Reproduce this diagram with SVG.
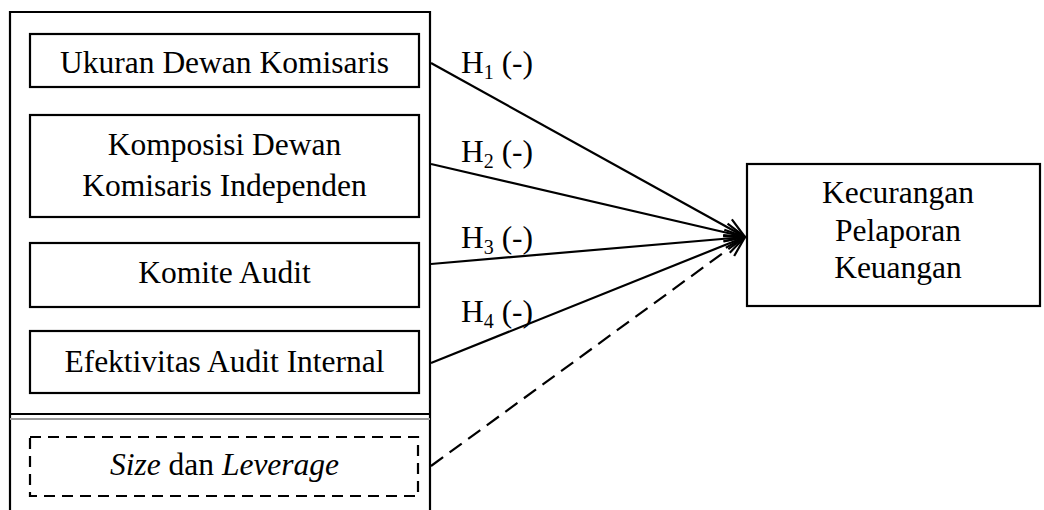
<svg xmlns="http://www.w3.org/2000/svg" width="1044" height="510" viewBox="0 0 1044 510">
<style>
text{font-family:"Liberation Serif","Times New Roman",serif;font-size:31.5px;fill:#000}
.b{fill:#fff;stroke:#000;stroke-width:2.2}
.c{fill:none;stroke:#000;stroke-width:2.2}
.d{stroke-dasharray:11 7}
.dl{stroke-dasharray:15 8}
.s{font-size:20px}
</style>
<defs>
<marker id="ah" viewBox="0 0 22 22" refX="21" refY="11" markerWidth="22" markerHeight="22" markerUnits="userSpaceOnUse" orient="auto">
<path d="M1,2 L21,11 L1,20" fill="none" stroke="#000" stroke-width="2.2"/>
</marker>
</defs>
<rect width="1044" height="510" fill="#fff"/>
<g id="outer">
<path d="M10,512 V12 H430 V512" class="c"/>
<line x1="10" y1="414" x2="430" y2="414" stroke="#000" stroke-width="2.2"/>
<line x1="10" y1="419" x2="430" y2="419" stroke="#999" stroke-width="2"/>
</g>
<g id="n1"><rect x="30" y="34" width="389" height="53" class="b"/><text x="224.5" y="73" text-anchor="middle">Ukuran Dewan Komisaris</text></g>
<g id="n2"><rect x="30" y="115" width="389" height="102" class="b"/><text x="224.5" y="155" text-anchor="middle">Komposisi Dewan</text><text x="224.5" y="196" text-anchor="middle">Komisaris Independen</text></g>
<g id="n3"><rect x="30" y="243" width="389" height="64" class="b"/><text x="224.5" y="283" text-anchor="middle">Komite Audit</text></g>
<g id="n4"><rect x="30" y="331" width="389" height="62" class="b"/><text x="224.5" y="372" text-anchor="middle">Efektivitas Audit Internal</text></g>
<g id="n5"><rect x="30" y="437" width="388" height="59" class="b d"/><text x="224.5" y="475" text-anchor="middle"><tspan font-style="italic">Size</tspan> dan <tspan font-style="italic">Leverage</tspan></text></g>
<g id="target"><rect x="747" y="164" width="293" height="142" class="b"/><text x="898" y="203" text-anchor="middle">Kecurangan</text><text x="898" y="241" text-anchor="middle">Pelaporan</text><text x="898" y="278" text-anchor="middle">Keuangan</text></g>
<g id="connectors">
<line x1="431" y1="63" x2="745" y2="237" class="c" marker-end="url(#ah)"/>
<line x1="431" y1="164" x2="745" y2="237" class="c" marker-end="url(#ah)"/>
<line x1="431" y1="264" x2="745" y2="237" class="c" marker-end="url(#ah)"/>
<line x1="431" y1="363" x2="745" y2="237" class="c" marker-end="url(#ah)"/>
<line x1="431" y1="466" x2="745" y2="237" class="c dl" marker-end="url(#ah)"/>
</g>
<g id="labels">
<text x="461" y="73">H<tspan class="s" dy="6">1</tspan><tspan dy="-6"> (-)</tspan></text>
<text x="461" y="162">H<tspan class="s" dy="6">2</tspan><tspan dy="-6"> (-)</tspan></text>
<text x="461" y="248">H<tspan class="s" dy="6">3</tspan><tspan dy="-6"> (-)</tspan></text>
<text x="461" y="322">H<tspan class="s" dy="6">4</tspan><tspan dy="-6"> (-)</tspan></text>
</g>
</svg>
